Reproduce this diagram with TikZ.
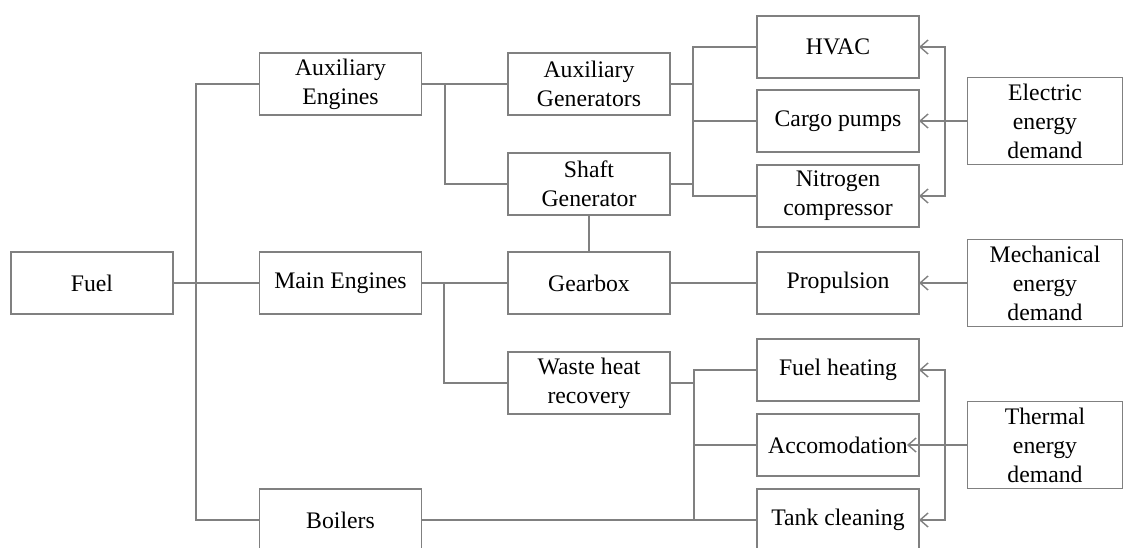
\documentclass[tikz,border=0pt]{standalone}
\usepackage{fontspec}
\setmainfont{Liberation Serif}
\usetikzlibrary{arrows.meta,positioning}

\begin{document}
\begin{tikzpicture}[
    x=0.02cm, y=-0.02cm,
    color=black!50, line width=0.8pt,
    box/.style={rectangle, draw=black!50, text=black, minimum width=3.24cm, minimum height=1.24cm,
        inner sep=0pt, outer sep=0pt, align=center, font=\fontsize{13.5}{16.5}\selectfont},
    demand/.style={box, minimum width=3.1cm, minimum height=1.74cm},
    arrow/.style={-{Straight Barb[length=1.6mm, width=2.8mm]}},
    twoarrow/.style={{Straight Barb[length=1.6mm, width=2.8mm]}-{Straight Barb[length=1.6mm, width=2.8mm]}}
]
    \useasboundingbox (0,0) rectangle (1124,547);
    \clip (0,0) rectangle (1124,547);

    \node[box] (fuel) at (92,283) {Fuel};
    \node[box] (auxeng) at (340.5,84) {Auxiliary\\Engines};
    \node[box] (maineng) at (340.5,283) {Main Engines};
    \node[box] (boilers) at (340.5,520) {Boilers};

    \node[box] (auxgen) at (589,84) {Auxiliary\\Generators};
    \node[box] (shaftgen) at (589,184) {Shaft\\Generator};
    \node[box] (gearbox) at (589,283) {Gearbox};
    \node[box] (whr) at (589,383) {Waste heat\\recovery};

    \node[box] (hvac) at (838,47) {HVAC};
    \node[box] (cargo) at (838,121) {Cargo pumps};
    \node[box] (nitro) at (838,196) {Nitrogen\\compressor};
    \node[box] (prop) at (838,283) {Propulsion};
    \node[box] (fuelheat) at (838,370) {Fuel heating};
    \node[box] (accom) at (838,445) {Accomodation};
    \node[box] (tank) at (838,520) {Tank cleaning};

    \node[demand] (elec) at (1045,121) {Electric\\energy\\demand};
    \node[demand] (mech) at (1045,283) {Mechanical\\energy\\demand};
    \node[demand] (therm) at (1045,445) {Thermal\\energy\\demand};

    % junction columns
    \coordinate (fj) at (196,283);
    \coordinate (aj) at (445,84);
    \coordinate (mj) at (444,283);
    \coordinate (es) at (693,121);
    \coordinate (ts) at (694,445);
    \coordinate (ed) at (945,121);
    \coordinate (td) at (945,445);

    % fuel supply
    \draw (fuel) -- (maineng);
    \draw (auxeng.west) -| (fj) |- (boilers.west);

    % engines
    \draw (auxeng) -- (auxgen);
    \draw (aj) |- (shaftgen.west);
    \draw (maineng) -- (gearbox);
    \draw (mj) |- (whr.west);
    \draw (shaftgen) -- (gearbox);
    \draw (gearbox) -- (prop);

    % electric consumers
    \draw (auxgen.east) -- (auxgen.east -| es);
    \draw (shaftgen.east) -- (shaftgen.east -| es);
    \draw (hvac.west) -| (es) |- (nitro.west);
    \draw (es) -- (cargo.west);

    % thermal consumers
    \draw (whr.east) -- (whr.east -| ts);
    \draw (fuelheat.west) -| (ts) |- (tank.west);
    \draw (ts) -- (accom.west);
    \draw (boilers) -- (tank);

    % demand
    \draw[arrow] (elec) -- (cargo);
    \draw[twoarrow] (hvac.east) -| (ed) |- (nitro.east);
    \draw[arrow] (mech) -- (prop);
    \draw[arrow] (therm) -- ([xshift=-0.24cm]accom.east);
    \draw[twoarrow] (fuelheat.east) -| (td) |- (tank.east);
\end{tikzpicture}
\end{document}
